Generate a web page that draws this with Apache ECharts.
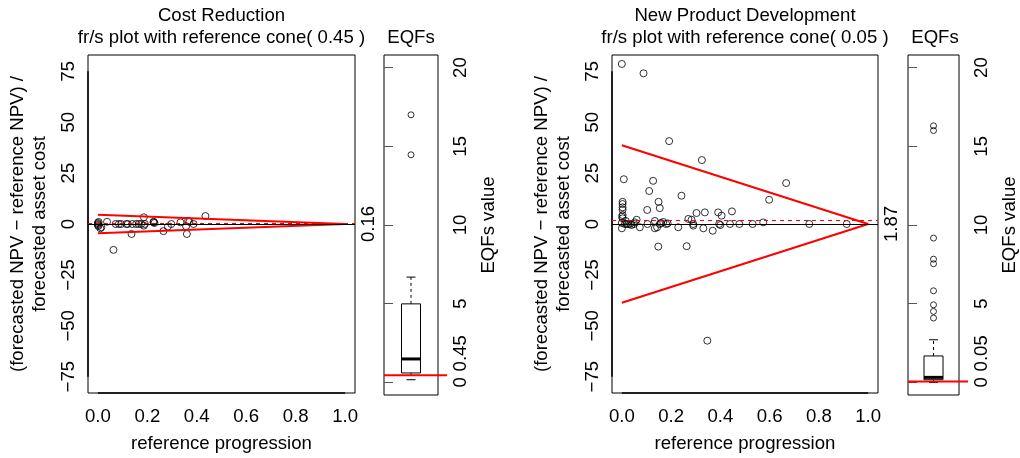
<!DOCTYPE html>
<html><head><meta charset="utf-8">
<script src="https://cdn.jsdelivr.net/npm/echarts@6/dist/echarts.min.js"></script>
<style>html,body{margin:0;padding:0;background:#fff}#c{width:1020px;height:458px}</style>
</head><body><div id="c"></div>
<script>
// ---------- data ----------
const panelTitles = ['Cost Reduction', 'New Product Development'];
const coneLevels = [0.45, 0.05];          // reference cone level / EQF threshold
const dashValues = [0.16, 1.87];          // dashed reference level
const coneHalfWidths = [4.5, 38.7];       // cone half-width at progression 0
const xTicks = [0, 0.2, 0.4, 0.6, 0.8, 1.0];
const yTicks = [-75, -50, -25, 0, 25, 50, 75];
const eqfTicks = [0, 5, 10, 15, 20];

const crPoints = [
  [0, 0], [0, 0.5], [0, -0.5], [0.003, 1], [0.002, -1], [0.01, -2.1], [0.014, -1.6],
  [0.037, 1.1], [0.063, -12.7], [0.072, 0], [0.085, 0], [0.094, 0], [0.115, 0],
  [0.121, 0], [0.136, -4.9], [0.139, 0], [0.155, 0], [0.166, 0], [0.175, 0],
  [0.186, 3.3], [0.186, -0.8], [0.19, 0], [0.225, 0.8], [0.229, 0.5], [0.226, 1.1],
  [0.265, -3.5], [0.283, -1.3], [0.297, 0], [0.334, 0.8], [0.357, -1.1], [0.36, -4.9],
  [0.365, 1.6], [0.37, 1.1], [0.387, 0], [0.435, 3.9]
];
const npdPoints = [
  [0.0, 78.6], [0.088, 74], [0.192, 40.7], [0.325, 31.4], [0.008, 22], [0.127, 21.2],
  [0.111, 16.2], [0.242, 13.9], [0.149, 10.9], [0.154, 7.8], [0.103, 6.9],
  [0.003, 10.9], [0.003, 9.8], [0.003, 8.2], [0.003, 7.0], [0.003, 4.4], [0.003, 2.8],
  [0.001, 3.6], [0.016, 1.5], [0.06, 2.1], [0.0, -2.1], [0.0, 0.5], [0.012, 0],
  [0.019, 0], [0.026, 0], [0.033, 0], [0.039, -0.5], [0.049, 0], [0.053, 0.8],
  [0.073, -1.6], [0.104, 0], [0.134, 1.5], [0.134, -2.1], [0.143, -1.6], [0.154, 0],
  [0.159, 0.5], [0.168, 1], [0.18, 0], [0.186, 0.3], [0.229, -1.6], [0.27, 2.5],
  [0.283, 2.1], [0.29, -0.8], [0.29, 0], [0.303, 5.4], [0.337, 5.7], [0.331, -2.1],
  [0.369, -3.3], [0.391, 5.7], [0.405, 4.1], [0.395, 0], [0.4, -0.5], [0.447, 6.2],
  [0.439, 0], [0.477, 0], [0.531, 0], [0.574, 0.8], [0.598, 11.9], [0.667, 20.1],
  [0.761, 0], [0.913, 0], [0.148, -11.1], [0.263, -10.9], [0.347, -57.3]
];
// boxplot stats: [lower whisker, Q1, median, Q3, upper whisker]
const crBox = [0.17, 0.6, 1.49, 4.99, 6.69];
const crOutliers = [14.46, 17.0];
const npdBox = [0.0, 0.17, 0.32, 1.68, 2.71];
const npdOutliers = [16.3, 16.0, 9.17, 7.83, 7.54, 5.82, 4.93, 4.51, 4.09];

// ---------- chart ----------
const FONT = '"Liberation Sans", Arial, Helvetica, sans-serif';
const txt = {fontFamily: FONT, fontSize: 18.6, color: '#000'};
const chart = echarts.init(document.getElementById('c'), null, {renderer: 'canvas'});

const scatterGrids = [{left: 88, width: 267}, {left: 612, width: 266}];
const boxGrids = [{left: 384, width: 54}, {left: 908, width: 54}];
const TOP = 55, H = 340;

const grids = [], xAxes = [], yAxes = [], series = [], titles = [];
const yName = '(forecasted NPV \u2212 reference NPV) /\nforecasted asset cost';

function boxRender(params, api) {
  const cx = api.coord([0.5, 0])[0];
  const y = v => api.coord([0.5, v])[1];
  const lo = api.value(0), q1 = api.value(1), md = api.value(2), q3 = api.value(3), hi = api.value(4);
  const hw = 9.5, sw = 4.5;
  const solid = {stroke: '#000', lineWidth: 1, fill: null};
  const dashed = {stroke: '#000', lineWidth: 1, lineDash: [3, 3], fill: null};
  return {type: 'group', children: [
    {type: 'line', shape: {x1: cx, y1: y(q3), x2: cx, y2: y(hi)}, style: dashed},
    {type: 'line', shape: {x1: cx, y1: y(q1), x2: cx, y2: y(lo)}, style: dashed},
    {type: 'line', shape: {x1: cx - sw, y1: y(hi), x2: cx + sw, y2: y(hi)}, style: solid},
    {type: 'line', shape: {x1: cx - sw, y1: y(lo), x2: cx + sw, y2: y(lo)}, style: solid},
    {type: 'rect', shape: {x: cx - hw, y: y(q3), width: 2 * hw, height: y(q1) - y(q3)},
      style: {fill: '#fff', stroke: '#000', lineWidth: 1}},
    {type: 'line', shape: {x1: cx - hw, y1: y(md), x2: cx + hw, y2: y(md)}, style: {stroke: '#000', lineWidth: 3}}
  ]};
}
function eqfLineRender(params, api) {
  const cs = params.coordSys;
  const yy = api.coord([0, api.value(0)])[1];
  return {type: 'line', shape: {x1: cs.x, y1: yy, x2: cs.x + cs.width + 9, y2: yy},
    style: {stroke: '#ff0000', lineWidth: 2}};
}
// axis line segments (first to last tick) along the left and bottom frame edges
function axisSegRender(params, api) {
  const cs = params.coordSys;
  const yTop = api.coord([0, yTicks[yTicks.length - 1]])[1];
  const yBot = api.coord([0, yTicks[0]])[1];
  const x0 = api.coord([xTicks[0], 0])[0];
  const x1 = api.coord([xTicks[xTicks.length - 1], 0])[0];
  const st = {stroke: '#000', lineWidth: 1.5};
  return {type: 'group', children: [
    {type: 'line', shape: {x1: cs.x, y1: yTop, x2: cs.x, y2: yBot}, style: st},
    {type: 'line', shape: {x1: x0, y1: cs.y + cs.height, x2: x1, y2: cs.y + cs.height}, style: st}
  ]};
}

const panels = [
  {points: crPoints, box: crBox, outliers: crOutliers},
  {points: npdPoints, box: npdBox, outliers: npdOutliers}
];

panels.forEach((p, i) => {
  const sg = scatterGrids[i], bg = boxGrids[i];
  const gS = grids.length;
  grids.push({left: sg.left, top: TOP, width: sg.width, height: H, show: true, borderColor: '#000', borderWidth: 1, backgroundColor: 'transparent'});
  const gB = grids.length;
  grids.push({left: bg.left, top: TOP, width: bg.width, height: H, show: true, borderColor: '#000', borderWidth: 1, backgroundColor: 'transparent'});

  // titles
  titles.push({text: panelTitles[i] + '\nfr/s plot with reference cone( ' + coneLevels[i] + ' )',
    left: sg.left + sg.width / 2, top: 5, textAlign: 'center', padding: 0,
    textStyle: Object.assign({}, txt, {fontWeight: 'normal', lineHeight: 22})});
  titles.push({text: 'EQFs', left: bg.left + bg.width / 2, top: 27, textAlign: 'center', padding: 0,
    textStyle: Object.assign({}, txt, {fontWeight: 'normal', lineHeight: 22})});

  // scatter axes
  const xS = xAxes.length;
  xAxes.push({gridIndex: gS, type: 'value', min: -0.04, max: 1.04,
    axisLine: {show: false}, axisTick: {show: false}, splitLine: {show: false},
    axisLabel: Object.assign({}, txt, {customValues: xTicks, formatter: v => v.toFixed(1), margin: 14}),
    name: 'reference progression', nameLocation: 'middle', nameGap: 41, nameTextStyle: txt});
  const xB = xAxes.length;
  xAxes.push({gridIndex: gB, type: 'value', min: 0, max: 1, show: false});

  const yS = yAxes.length;
  yAxes.push({gridIndex: gS, type: 'value', position: 'left', min: -83, max: 83,
    axisLine: {show: false}, axisTick: {show: false}, splitLine: {show: false},
    axisLabel: Object.assign({}, txt, {customValues: yTicks, rotate: 90, margin: 10,
      formatter: v => v < 0 ? '\u2212' + (-v) : String(v)}),
    name: yName, nameLocation: 'middle', nameRotate: 90, nameGap: 37,
    nameTextStyle: Object.assign({}, txt, {lineHeight: 22})});
  yAxes.push({gridIndex: gS, type: 'value', position: 'right', min: -83, max: 83,
    axisLine: {show: false}, axisTick: {show: false}, splitLine: {show: false},
    axisLabel: Object.assign({}, txt, {customValues: [0], rotate: 90, margin: 4,
      formatter: () => dashValues[i].toFixed(2)})});
  const yB = yAxes.length;
  yAxes.push({gridIndex: gB, type: 'value', position: 'right', min: -0.8, max: 20.8,
    axisLine: {show: false}, splitLine: {show: false},
    axisTick: {show: true, customValues: eqfTicks, length: 9, lineStyle: {color: '#555', width: 1}},
    axisLabel: Object.assign({}, txt, {customValues: eqfTicks, rotate: 90, margin: 13}),
    name: 'EQFs value', nameLocation: 'middle', nameRotate: 90, nameGap: 41, nameTextStyle: txt});
  yAxes.push({gridIndex: gB, type: 'value', position: 'right', min: -0.8, max: 20.8,
    axisLine: {show: false}, splitLine: {show: false}, axisTick: {show: false},
    axisLabel: Object.assign({}, txt, {customValues: [0], rotate: 90, margin: 13, align: 'left',
      padding: [0, 0, 0, 11], formatter: () => String(coneLevels[i])})});

  // series
  series.push({type: 'custom', xAxisIndex: xS, yAxisIndex: yS, data: [[0, 0]], renderItem: axisSegRender, clip: false, silent: true});
  series.push({type: 'scatter', xAxisIndex: xS, yAxisIndex: yS, data: p.points,
    symbol: 'circle', symbolSize: 7, silent: true,
    itemStyle: {color: 'rgba(0,0,0,0)', borderColor: '#000', borderWidth: 1},
    markLine: {silent: true, symbol: 'none', label: {show: false}, animation: false,
      data: [
        {yAxis: 0, lineStyle: {color: '#000', width: 1, type: 'solid'}},
        {yAxis: dashValues[i], lineStyle: {color: '#ff0000', width: 1, type: [4, 4]}}
      ]}});
  const c = coneHalfWidths[i];
  series.push({type: 'line', xAxisIndex: xS, yAxisIndex: yS, data: [[0, c], [1, 0], [0, -c]],
    symbol: 'none', silent: true, lineStyle: {color: '#ff0000', width: 2}});
  series.push({type: 'custom', xAxisIndex: xB, yAxisIndex: yB, data: [p.box], renderItem: boxRender, silent: true});
  series.push({type: 'scatter', xAxisIndex: xB, yAxisIndex: yB, data: p.outliers.map(v => [0.5, v]),
    symbol: 'circle', symbolSize: 6, silent: true,
    itemStyle: {color: 'rgba(0,0,0,0)', borderColor: '#000', borderWidth: 1}});
  series.push({type: 'custom', xAxisIndex: xB, yAxisIndex: yB, data: [[coneLevels[i]]], renderItem: eqfLineRender, clip: false, silent: true});
});

chart.setOption({
  animation: false,
  backgroundColor: '#fff',
  title: titles,
  grid: grids,
  xAxis: xAxes,
  yAxis: yAxes,
  series: series
});
</script>
</body></html>
